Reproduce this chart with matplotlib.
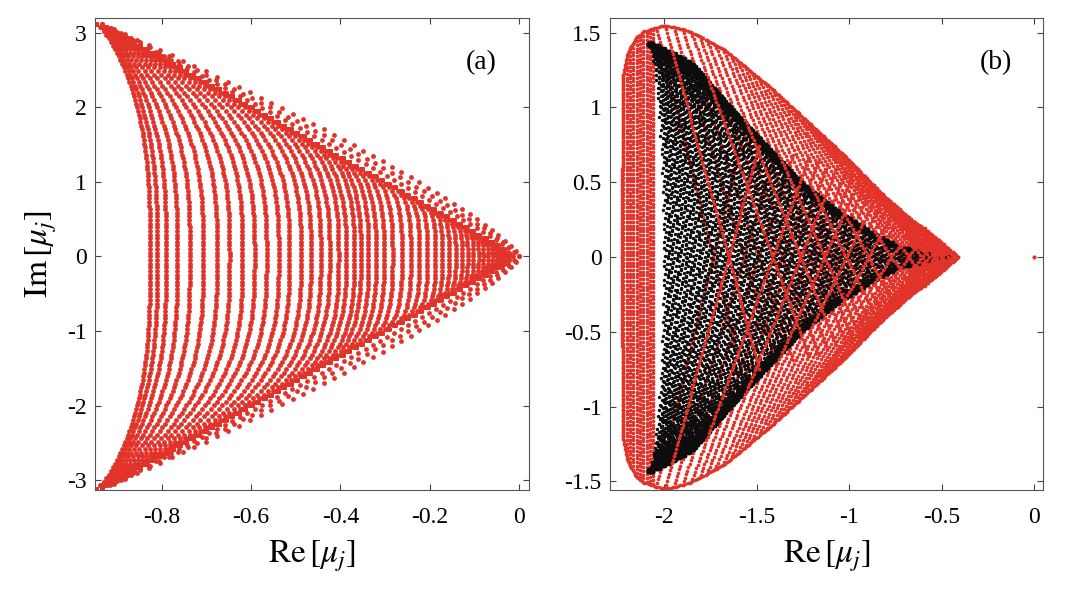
import numpy as np
import matplotlib.pyplot as plt

plt.rcParams['font.family'] = ['Liberation Serif', 'DejaVu Serif']
plt.rcParams['mathtext.fontset'] = 'stix'
plt.rcParams['axes.unicode_minus'] = False

RED = '#e1332a'
BLACK = '#0d0d0d'

# ---------------- panel (a): values ----------------
tip_a = (-0.934, 3.12)          # upper tip, lower tip is the mirror
# where each inner curve crosses Im = 0
x0_a = [-0.826, -0.810, -0.790, -0.765, -0.737, -0.707, -0.676, -0.648,
        -0.619, -0.592, -0.565, -0.538, -0.514, -0.488, -0.466, -0.444,
        -0.424, -0.404, -0.387, -0.369, -0.354, -0.337, -0.320, -0.302,
        -0.283, -0.262, -0.242, -0.223, -0.205, -0.187, -0.171, -0.156,
        -0.141, -0.127, -0.114, -0.101, -0.089, -0.078, -0.067, -0.057,
        -0.048, -0.040, -0.032, -0.025, -0.019, -0.013, -0.008, -0.004]
outer_q_a = [1.25, 1.16, 1.08]  # bulge of the outer arcs
outer_n_a = [44, 50, 58]        # dots per half arc
n_half_a = 64

# ---------------- panel (b): values ----------------
env_x = [-2.228, -2.225, -2.200, -2.156, -2.110, -2.012, -1.958, -1.860,
         -1.806, -1.671, -1.572, -1.428, -1.230, -1.032, -0.835, -0.673,
         -0.530, -0.413]
env_y = [0.000, 1.200, 1.360, 1.462, 1.507, 1.547, 1.540, 1.507,
         1.473, 1.383, 1.280, 1.135, 0.910, 0.685, 0.436, 0.258,
         0.124, 0.000]
edge_y = [0.000, 0.022, 0.080, 0.170, 0.302, 0.483, 0.753, 1.020, 1.293, 1.428]
edge_x = [-0.457, -0.600, -0.760, -0.900, -1.070, -1.260, -1.470, -1.670,
          -1.860, -2.058]
band_x = [-2.222, -2.204, -2.186, -2.168, -2.150, -2.132, -2.114, -2.096,
          -2.078, -2.060]
tip_b = (-2.055, 1.425)
apex_b = -0.455
x0_left_b = -1.99
n_cols_b = 90
n_half_b = 80
# where a stripe that starts on the rim at x crosses Im = 0
cross_sx = [-2.050, -2.012, -1.860, -1.671, -1.428, -1.230, -1.032, -0.835,
            -0.673, -0.530, -0.413]
cross_x = [-1.750, -1.680, -1.420, -1.200, -0.950, -0.720, -0.590, -0.530,
           -0.475, -0.440, -0.413]
ext_sx = [-2.050, -1.900, -1.400, -0.900, -0.413]
ext_t = [1.5, 1.45, 1.35, 1.25, 1.1]
lone_pt = (0.0, 0.0)

PXB = (185.4, 148.0)   # pixels per unit, panel (b)


def smin(a, b, eps):
    return 0.5 * (a + b) - np.sqrt(0.25 * (a - b) ** 2 + eps ** 2)


# ---- panel (a) points
X, Y = tip_a
yy = Y * np.arange(-n_half_a, n_half_a + 1) / n_half_a
t = np.abs(yy) / Y
ax_x, ax_y = [], []
for x0 in x0_a:
    f = x0 + (X - x0) * t ** 3
    ax_x.append(smin(f, X * t, 0.012))
    ax_y.append(yy)
for q, n in zip(outer_q_a, outer_n_a):
    tt = np.linspace(-1, 1, 2 * n + 1)
    ax_x.append(X * np.abs(tt) ** q)
    ax_y.append(Y * tt)
ax_x = np.concatenate(ax_x)
ax_y = np.concatenate(ax_y)

# ---- panel (b) black points
Xb, Yb = tip_b
u = np.linspace(0, 1, n_cols_b)
x0_b = apex_b + (x0_left_b - apex_b) * (1 - u) ** 1.4
yb = Yb * np.arange(-n_half_b, n_half_b + 1) / n_half_b
tb = np.abs(yb) / Yb
B = np.interp(np.abs(yb), edge_y, edge_x)
bx, by = [], []
j = np.arange(len(yb))
for k, x0 in enumerate(x0_b):
    f = x0 + (Xb - x0) * tb ** 2.5
    xx = smin(f, B, 0.02)
    wob = ((k * 37 + j * 11) % 7) / 3.0 - 1.0
    bx.append(xx + 0.014 * wob)
    by.append(yb + 0.009 * (((k * 13 + j * 5) % 5) / 2.0 - 1.0))
bx = np.concatenate(bx)
by = np.concatenate(by)

# ---- panel (b) red points
ex = np.array(env_x)
ey = np.array(env_y)


def inside_rim(x, y):
    m = np.abs(y) <= np.interp(x, ex, ey) + 0.01
    return x[m], y[m]


under_x, under_y, over_x, over_y = [], [], [], []

# left band of vertical columns
for i, x in enumerate(band_x):
    h = np.interp(x, ex, ey)
    n = int(2 * h * PXB[1] / 3.6)
    cy = np.linspace(-h, h, n) + (i % 2) * 0.012
    under_x.append(np.full(n, x))
    under_y.append(cy)

# stripes starting on the rim right of the band
px = ex[4:] * PXB[0]
py = ey[4:] * PXB[1]
cum = np.concatenate([[0], np.cumsum(np.hypot(np.diff(px), np.diff(py)))])
s_k = np.arange(4, cum[-1] - 4, 9.0)
Sx = np.interp(s_k, cum, ex[4:])
Sy = np.interp(s_k, cum, ey[4:])
keep = Sx >= -2.05
for k, (sx, sy) in enumerate(zip(Sx[keep], Sy[keep])):
    cx = np.interp(sx, cross_sx, cross_x)
    tm = np.interp(sx, ext_sx, ext_t)
    length = np.hypot((cx - sx) * PXB[0], sy * PXB[1]) * tm
    n = max(int(length / 3.6), 2)
    tt = np.linspace(0, tm, n)
    lx = sx + tt * (cx - sx)
    ly = sy * (1 - tt)
    if k % 3 == 1:
        over_x += [lx, lx]
        over_y += [ly, -ly]
    else:
        under_x += [lx, lx]
        under_y += [ly, -ly]

# rim of the red region
pxa = ex * PXB[0]
pya = ey * PXB[1]
cum2 = np.concatenate([[0], np.cumsum(np.hypot(np.diff(pxa), np.diff(pya)))])
s2 = np.arange(0, cum2[-1], 2.5)
rimx = np.interp(s2, cum2, ex)
rimy = np.interp(s2, cum2, ey)
under_x += [rimx, rimx]
under_y += [rimy, -rimy]

ux, uy = inside_rim(np.concatenate(under_x), np.concatenate(under_y))
ox, oy = inside_rim(np.concatenate(over_x), np.concatenate(over_y))

# ---------------- drawing ----------------
fig = plt.figure(figsize=(10.68, 6.04), dpi=100)
ax1 = fig.add_axes([0.089, 0.189, 0.406, 0.781])
ax2 = fig.add_axes([0.571, 0.189, 0.406, 0.781])

ax1.scatter(ax_x, ax_y, s=12, c=RED, linewidths=0)
ax2.scatter(ux, uy, s=7, c=RED, linewidths=0, zorder=1)
ax2.scatter(bx, by, s=6, c=BLACK, linewidths=0, zorder=2)
ax2.scatter(ox, oy, s=7, c=RED, linewidths=0, zorder=3)
ax2.scatter([lone_pt[0]], [lone_pt[1]], s=9, c=RED, linewidths=0)

ax1.set_xlim(-0.949, 0.021)
ax1.set_ylim(-3.13, 3.195)
ax1.set_xticks([-0.8, -0.6, -0.4, -0.2, 0])
ax1.set_xticklabels(['-0.8', '-0.6', '-0.4', '-0.2', '0'])
ax1.set_yticks([-3, -2, -1, 0, 1, 2, 3])
ax1.set_yticklabels(['-3', '-2', '-1', '0', '1', '2', '3'])

ax2.set_xlim(-2.295, 0.049)
ax2.set_ylim(-1.556, 1.597)
ax2.set_xticks([-2, -1.5, -1, -0.5, 0])
ax2.set_xticklabels(['-2', '-1.5', '-1', '-0.5', '0'])
ax2.set_yticks([-1.5, -1, -0.5, 0, 0.5, 1, 1.5])
ax2.set_yticklabels(['-1.5', '-1', '-0.5', '0', '0.5', '1', '1.5'])

for ax, lab in [(ax1, '(a)'), (ax2, '(b)')]:
    ax.tick_params(direction='in', length=4, width=0.8, top=True, right=True,
                   labelsize=17, color='#444444')
    ax.tick_params(axis='x', pad=12)
    ax.tick_params(axis='y', pad=6)
    for sp in ax.spines.values():
        sp.set_color('#555555')
        sp.set_linewidth(0.8)
    ax.text(0.89, 0.905, lab, transform=ax.transAxes, fontsize=20,
            ha='center', va='center')
    ax.set_xlabel(r'$\mathrm{Re}\,[\mu_j]$', fontsize=24, labelpad=8)

ax1.set_ylabel(r'$\mathrm{Im}\,[\mu_j]$', fontsize=24, labelpad=6)

fig.savefig('out.png', dpi=100)
